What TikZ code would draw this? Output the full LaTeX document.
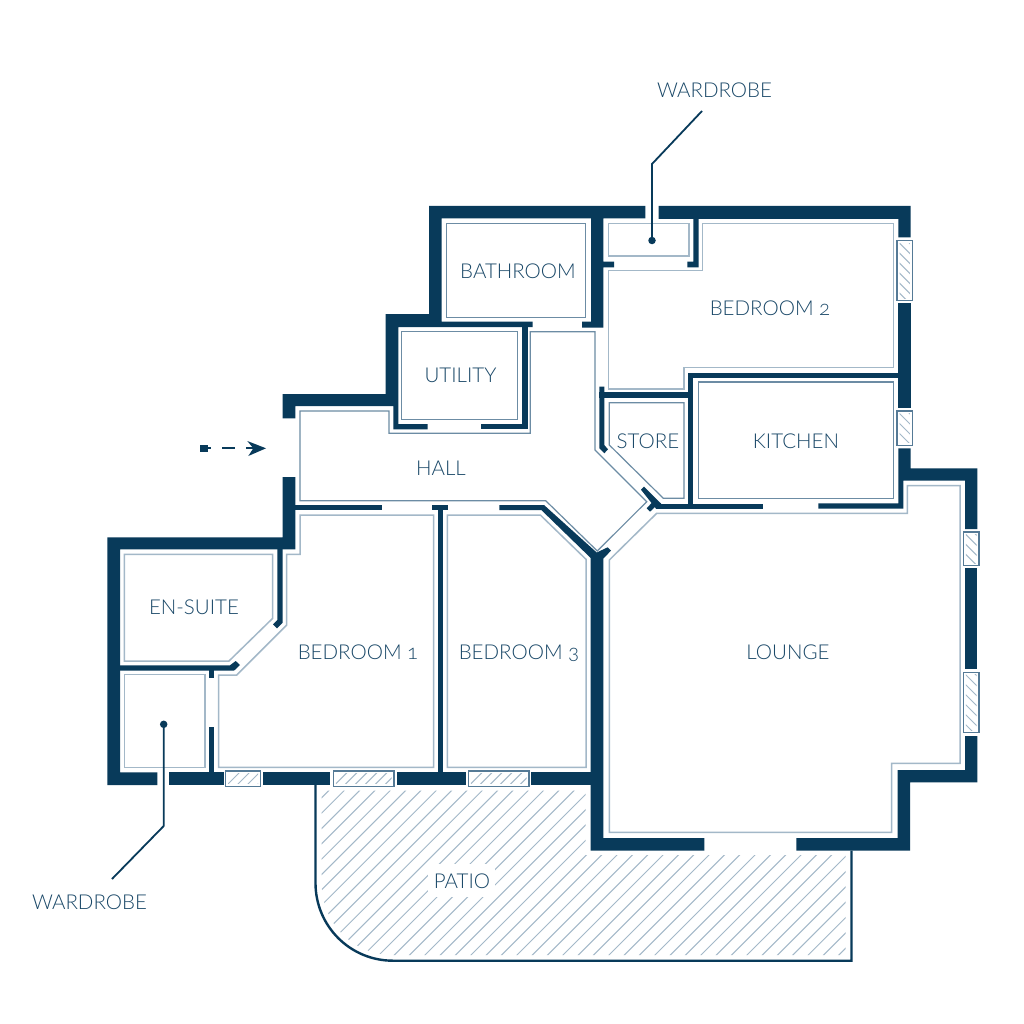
\documentclass[tikz,border=0pt]{standalone}
\usepackage{fontspec}
\newfontfamily\labfont[Numbers=OldStyle]{Lato Light}
\definecolor{wallc}{HTML}{083A5A}
\definecolor{lightc}{HTML}{A3B8C8}
\definecolor{midc}{HTML}{6C8CA4}
\definecolor{winc}{HTML}{557A96}
\definecolor{textc}{HTML}{1A4868}
\tikzset{
  wallfill/.style={fill=wallc,draw=none},
  innerl/.style={draw=lightc,line width=1.5pt,line join=miter,fill=none},
  innerd/.style={draw=midc,line width=1.2pt,line join=miter,fill=none},
  hatchl/.style={draw=lightc,line width=1pt},
  winbox/.style={draw=winc,line width=1.5pt,fill=white},
  leader/.style={draw=wallc,line width=1.8pt},
  patioline/.style={draw=wallc,line width=2.4pt},
  dotmark/.style={circle,fill=wallc,draw=none,inner sep=0pt,minimum size=7.5pt},
  roomlabel/.style={font=\labfont\fontsize{20.5}{24}\selectfont,text=textc,inner sep=0pt,text height=14.8pt,text depth=0pt},
}
% horizontal window: hatch runs up to the right
\newcommand{\winh}[4]{%
  \draw[winbox] (#1,#2) rectangle (#3,#4);
  \begin{scope}
    \clip (#1+2.5,#2+2.5) rectangle (#3-2.5,#4-2.5);
    \foreach \k in {0,...,9}{\draw[hatchl] (#1+10*\k,#4) -- (#1+10*\k+20,#4-20);}
  \end{scope}}
% vertical window: hatch runs down to the right
\newcommand{\winv}[4]{%
  \draw[winbox] (#1,#2) rectangle (#3,#4);
  \begin{scope}
    \clip (#1+2.5,#2+2.5) rectangle (#3-2.5,#4-2.5);
    \foreach \k in {-2,...,7}{\draw[hatchl] (#1,#2+10*\k) -- (#1+20,#2+10*\k+20);}
  \end{scope}}
\begin{document}
\begin{tikzpicture}[x=1pt,y=-1pt]
\useasboundingbox (0,0) rectangle (1024,1024);
\fill[white] (0,0) rectangle (1024,1024);

% ---- patio hatch
\begin{scope}
  \clip (321.7,790.7) -- (585.7,790.7) -- (585.7,855) -- (845.7,855) -- (845.7,955) -- (393,955)
     .. controls (353,955) and (321.7,923) .. (321.7,883) -- cycle;
  \foreach \k in {-1,...,46}{
    \draw[hatchl] (1119.4+15.33*\k-780,780) -- (1119.4+15.33*\k-970,970);
  }
\end{scope}
\fill[white] (428,864) rectangle (495,897);
\draw[patioline] (315.5,785) -- (315.5,883) .. controls (315.5,926) and (350,960.7) .. (393,960.7)
   -- (851.5,960.7) -- (851.5,850.7);

% ---- room outlines
\draw[innerd] (446.3,223.3) rectangle (585.7,317.3);
\draw[innerl] (608.3,223.3) rectangle (689,256);
\draw[innerl] (608.3,270.7) -- (702.7,270.7) -- (702.7,223.3) -- (893.7,223.3) -- (893.7,367.7)
   -- (684,367.7) -- (684,389) -- (608.3,389) -- cycle;
\draw[innerd] (401.3,331.7) -- (517.7,331.7) -- (517.7,419.3) -- (401.3,419.3) -- cycle;
\draw[innerd] (698.3,382) rectangle (893.7,498.3);
\draw[innerd] (609.3,402.7) -- (684,402.7) -- (684,498.3) -- (663.3,498.3) -- (609.3,445) -- cycle;
\draw[innerd] (530.3,331.7) -- (595,331.7) -- (595,450) -- (646.7,501.7) -- (597.3,551)
   -- (545.7,500.7) -- (300,500.7) -- (300,411) -- (389,411) -- (389,433.3) -- (530.3,433.3) -- cycle;
\draw[innerl] (300,515) -- (433.5,515) -- (433.5,767.3) -- (218.5,767.3) -- (218.5,675) -- (236.7,675)
   -- (286.7,625) -- (286.7,554.3) -- (300,554.3) -- cycle;
\draw[innerl] (447.3,515) -- (540.3,515) -- (586,559.3) -- (586,767.3) -- (447.3,767.3) -- cycle;
\draw[innerl] (124.3,554.3) -- (272.7,554.3) -- (272.7,618.3) -- (229,661) -- (124.3,661) -- cycle;
\draw[innerl] (124.5,674.3) rectangle (205,767.3);
\draw[innerl] (609.3,560) -- (656.7,513.3) -- (907.3,513.3) -- (907.3,485.7) -- (960,485.7)
   -- (960,763.3) -- (891.7,763.3) -- (891.7,832.3) -- (609.3,832.3) -- cycle;

% ---- walls
\fill[wallfill] (645.3,206) -- (429,206) -- (429,314) -- (385.7,314) -- (385.7,394) -- (282.7,394)
   -- (282.7,418.3) -- (295.3,418.3) -- (295.3,406) -- (393.3,406) -- (393.3,429.3) -- (427.7,429.3)
   -- (427.7,424) -- (398.3,424) -- (398.3,327) -- (532.7,327) -- (532.7,321.7) -- (441.5,321.7)
   -- (441.5,218.5) -- (591,218.5) -- (591,321.7) -- (582,321.7) -- (582,327.7) -- (603.3,327.7)
   -- (603.3,267.3) -- (614,267.3) -- (614,261.7) -- (603.3,261.7) -- (603.3,218.5) -- (645.3,218.5) -- cycle;
\fill[wallfill] (522,327) rectangle (527.7,429.3);
\fill[wallfill] (480.7,424) rectangle (527.7,429.3);
\fill[wallfill] (658.7,206) -- (910.7,206) -- (910.7,237.3) -- (898.3,237.3) -- (898.3,219) -- (698.7,219)
   -- (698.7,267.3) -- (687.3,267.3) -- (687.3,261.7) -- (693.3,261.7) -- (693.3,219) -- (658.7,219) -- cycle;
\fill[wallfill] (898.3,302.7) rectangle (910.7,408.3);
\fill[wallfill] (688.3,372.7) rectangle (898.3,377.7);
\fill[wallfill] (688.3,372.7) rectangle (693.3,508.7);
\fill[wallfill] (599.3,392.3) rectangle (688.3,397.7);
\fill[wallfill] (599.3,386.7) -- (604.3,386.7) -- (604.3,445) -- (608,449.3) -- (604.3,453.3) -- (599.3,448.3) -- cycle;
\fill[wallfill] (898.3,448.3) -- (910.7,448.3) -- (910.7,468.3) -- (977.3,468.3) -- (977.3,529) -- (965,529)
   -- (965,480.7) -- (903.3,480.7) -- (903.3,508.7) -- (818.3,508.7) -- (818.3,503.3) -- (898.3,503.3) -- cycle;
\fill[wallfill] (656,503.5) rectangle (763.3,508.7);
\fill[wallfill] (965,567.7) rectangle (977.3,669);
\fill[wallfill] (965,736) -- (977.3,736) -- (977.3,782.3) -- (910,782.3) -- (910,850.7) -- (796.3,850.7)
   -- (796.3,838) -- (897.7,838) -- (897.7,770) -- (965,770) -- cycle;
\fill[wallfill] (282.7,477) -- (295.3,477) -- (295.3,549.3) -- (120,549.3) -- (120,772.3) -- (157.3,772.3)
   -- (157.3,785) -- (107.3,785) -- (107.3,537.3) -- (282.7,537.3) -- cycle;
\fill[wallfill] (169,772.3) rectangle (223.7,785);
\fill[wallfill] (262.7,772.3) rectangle (330.3,785);
\fill[wallfill] (397,772.3) rectangle (465.7,785);
\fill[wallfill] (531,772.3) rectangle (591,785);
\fill[wallfill] (438,505) rectangle (443,773);
\fill[wallfill] (432,505) rectangle (448.3,510);
\fill[wallfill] (295,505) rectangle (381.7,510);
% en-suite partitions
\fill[wallfill] (277.3,549) -- (282.7,549) -- (282.7,622.7) -- (277,628.3) -- (273,624.3) -- (277.3,620) -- cycle;
\fill[wallfill] (120,665.3) -- (230,665.3) -- (235.7,661) -- (240,665) -- (234,670.7) -- (120,670.7) -- cycle;
\fill[wallfill] (208.7,670) rectangle (214,677.7);
\fill[wallfill] (208.7,726.7) rectangle (214,773);
% central wall with Y
\fill[wallfill] (499.3,505) -- (544,505) -- (596.7,552.5) -- (607.7,547.3) -- (611,550.7) -- (603.3,558.5)
   -- (603.3,838) -- (704.3,838) -- (704.3,850.7) -- (590.7,850.7) -- (590.7,558) -- (541.3,510) -- (499.3,510) -- cycle;
% diagonal door T
\fill[wallfill] (641,489.7) -- (644,486.7) -- (661,503.5) -- (661,508.7) -- (656,508.7) -- cycle;
\fill[wallfill] (646.7,508.3) -- (652,502.5) -- (656,506) -- (650,511.7) -- cycle;

% ---- windows
\winh{225.7}{771}{260.7}{786.3}
\winh{333.3}{771}{394}{786.3}
\winh{468.3}{771}{529}{786.3}
\winv{897}{240.7}{912.3}{300.7}
\winv{897}{411}{912.3}{445.3}
\winv{963.3}{532}{979}{565.7}
\winv{963.3}{672.3}{979}{732.7}

% ---- entry arrow
\fill[wallfill] (200,444.8) rectangle (208.3,452.2);
\draw[leader] (208,448.3) -- (211,448.3);
\draw[leader] (222.3,448.3) -- (235,448.3);
\draw[leader] (246,448.3) -- (255,448.3);
\fill[wallfill] (266,448.3) -- (247.3,441) -- (253.3,448.3) -- (248.3,456) -- cycle;

% ---- labels
\node[roomlabel] (bath) at (518,271) {BATHROOM};
\node[roomlabel] (util) at (460.5,375) {UTILITY};
\node[roomlabel] (bed2) at (770,308) {BEDROOM 2};
\node[roomlabel] (store) at (648,441) {STORE};
\node[roomlabel] (kit) at (796,441) {KITCHEN};
\node[roomlabel] (hall) at (441,468) {HALL};
\node[roomlabel] (ens) at (194,607) {EN-SUITE};
\node[roomlabel] (bed1) at (358,652) {BEDROOM 1};
\node[roomlabel] (bed3) at (519,652) {BEDROOM 3};
\node[roomlabel] (lounge) at (788,652) {LOUNGE};
\node[roomlabel] (patio) at (462,881) {PATIO};
\node[roomlabel] (wtop) at (714.5,90) {WARDROBE};
\node[roomlabel] (wbot) at (89.5,902) {WARDROBE};

% ---- leaders
\node[dotmark] (dtop) at (652,240.5) {};
\node[dotmark] (dbot) at (163.7,724.3) {};
\coordinate (ltopa) at (702,111);
\coordinate (ltopb) at (652,164);
\coordinate (lbota) at (163.7,826);
\coordinate (lbotb) at (112,879);
\draw[leader] (ltopa) -- (ltopb) -- (dtop.center);
\draw[leader] (dbot.center) -- (lbota) -- (lbotb);
\end{tikzpicture}
\end{document}
